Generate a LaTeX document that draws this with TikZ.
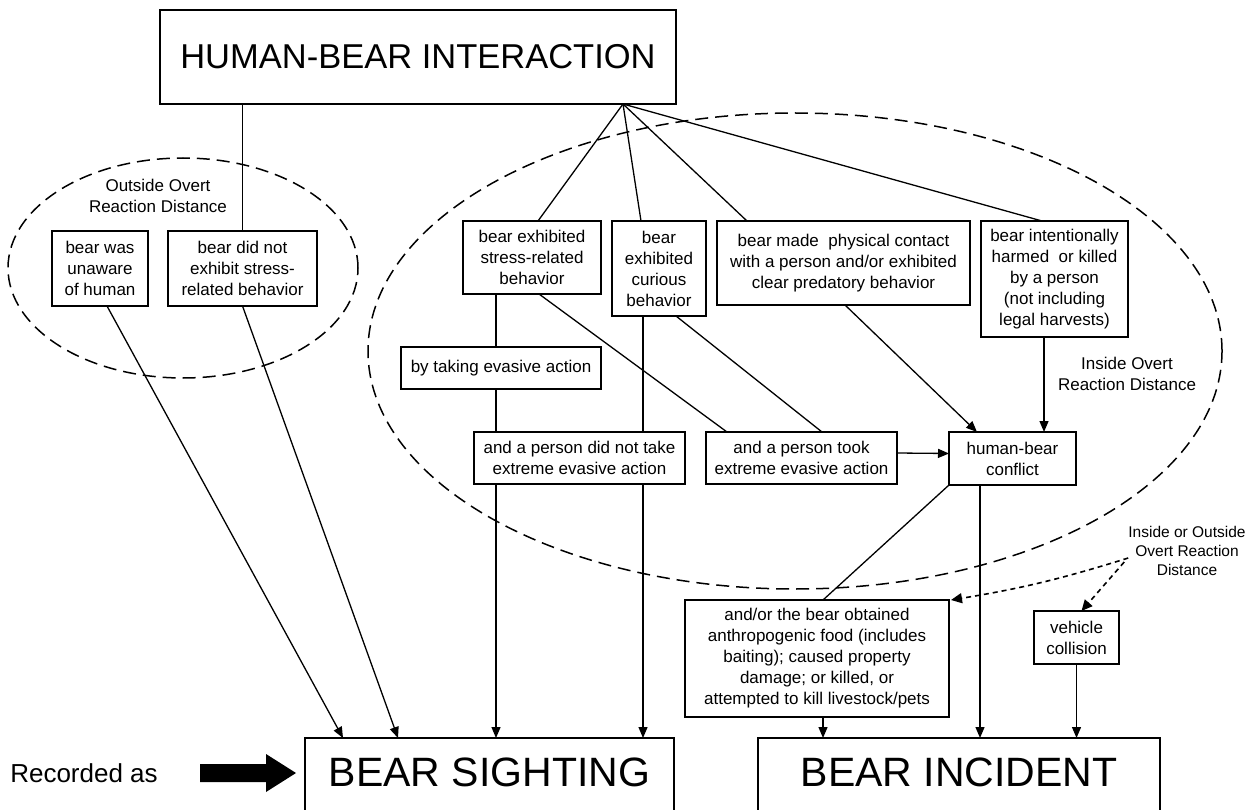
\documentclass[tikz,border=0pt]{standalone}
\usepackage{fontspec}
\setmainfont{Liberation Sans}
\usetikzlibrary{arrows.meta,calc}
\begin{document}
\begin{tikzpicture}[x=1pt,y=-1pt,
  box/.style={draw,line width=1.3pt,inner sep=0pt,outer sep=0pt,align=center,font=\fontsize{17}{21}\selectfont},
  bigbox/.style={inner sep=0pt,outer sep=0pt,font=\fontsize{41}{46}\selectfont},
  con/.style={line width=1.3pt},
  arr/.style={line width=1.3pt,-{Triangle[length=11pt,width=9pt]}},
  zone/.style={line width=1.5pt,dash pattern=on 13pt off 7pt},
  darr/.style={line width=1.6pt,dash pattern=on 5pt off 4pt,-{Triangle[length=11pt,width=10pt]}},
  lbl/.style={align=center,inner sep=0pt,font=\fontsize{17}{21}\selectfont},
]
\useasboundingbox (0,0) rectangle (1260,810);
\fill[white] (0,0) rectangle (1260,810);
\clip (0,0) rectangle (1260,810);

% zones
\draw[zone] (183,268) ellipse [x radius=175pt, y radius=110pt];
\draw[zone] (795,351) ellipse [x radius=427pt, y radius=238pt];

% title
\node[box,minimum width=516pt,minimum height=94pt,font=\fontsize{34.5}{40}\selectfont] (top) at (418,57) {HUMAN-BEAR INTERACTION};

% labels
\node[lbl] (outlbl) at (158,196) {Outside Overt\\Reaction Distance};
\node[lbl] (inlbl) at (1127,374) {Inside Overt\\Reaction Distance};
\node[lbl,font=\fontsize{15.5}{19}\selectfont] (iolbl) at (1187,551) {Inside or Outside\\Overt Reaction\\Distance};

% boxes
\node[box,minimum width=96pt,minimum height=75pt] (unaware) at (100,268.5) {bear was\\unaware\\of human};
\node[box,minimum width=149pt,minimum height=75pt] (didnot) at (242.5,268.5) {bear did not\\exhibit stress-\\related behavior};
\node[box,minimum width=138pt,minimum height=73pt] (stress) at (532,257.5) {bear exhibited\\stress-related\\behavior};
\node[box,minimum width=94pt,minimum height=95pt] (curious) at (659,268.5) {bear\\exhibited\\curious\\behavior};
\node[box,minimum width=253pt,minimum height=84pt] (physical) at (843.5,263) {bear made\ \ physical contact\\with a person and/or exhibited\\clear predatory behavior};
\node[box,minimum width=147pt,minimum height=116pt] (harmed) at (1054.5,279) {bear intentionally\\harmed\ \ or killed\\by a person\\(not including\\legal harvests)};
\node[box,minimum width=200pt,minimum height=42pt] (bytaking) at (501,368) {by taking evasive action};
\node[box,minimum width=211pt,minimum height=52pt] (didnottake) at (579.5,458) {and a person did not take\\extreme evasive action};
\node[box,minimum width=191pt,minimum height=52pt] (took) at (801.5,458) {and a person took\\extreme evasive action};
\node[box,minimum width=127pt,minimum height=53pt] (conflict) at (1012.5,458.5) {human-bear\\conflict};
\node[box,minimum width=264pt,minimum height=117pt] (andor) at (817,658.5) {and/or the bear obtained\\anthropogenic food (includes\\baiting); caused property\\damage; or killed, or\\attempted to kill livestock/pets};
\node[box,minimum width=85pt,minimum height=53pt] (vehicle) at (1076.5,637.5) {vehicle\\collision};

% outcome boxes
\node[bigbox,minimum width=369pt,minimum height=68pt] (sighting) at (489.5,772) {BEAR SIGHTING};
\node[bigbox,minimum width=402pt,minimum height=68pt] (incident) at (959,772) {BEAR INCIDENT};
\draw[con] ([yshift=-12pt]sighting.south west) -- (sighting.north west) -- (sighting.north east) -- ([yshift=-12pt]sighting.south east);
\draw[con] ([yshift=-12pt]incident.south west) -- (incident.north west) -- (incident.north east) -- ([yshift=-12pt]incident.south east);

% recorded as
\node[inner sep=0pt,font=\fontsize{26}{30}\selectfont] (rec) at (84,773) {Recorded as};
\fill (200,764) -- (266,764) -- (266,754) -- (296,773) -- (266,792) -- (266,782) -- (200,782) -- cycle;

% connectors
\coordinate (apex) at ([xshift=205pt]top.south);
\draw[con] (top.south -| didnot.north) -- (didnot.north);
\draw[con] (apex) -- ([xshift=6pt]stress.north);
\draw[con] (apex) -- ([xshift=-18pt]curious.north);
\draw[con] (apex) -- ([xshift=-96.5pt]physical.north);
\draw[con] (apex) -- ([xshift=-12.5pt]harmed.north);
\draw[arr] ([xshift=7pt]unaware.south) -- ([xshift=38pt]sighting.north west);
\draw[arr] (didnot.south) -- ([xshift=93pt]sighting.north west);
\draw[con] ([xshift=-36pt]stress.south) -- ([xshift=-5pt]bytaking.north);
\draw[con] ([xshift=-5pt]bytaking.south) -- ([xshift=-83.5pt]didnottake.north);
\draw[arr] ([xshift=-83.5pt]didnottake.south) -- ([xshift=191pt]sighting.north west);
\draw[con] ([xshift=-16pt]curious.south) -- ([xshift=63.5pt]didnottake.north);
\draw[arr] ([xshift=63.5pt]didnottake.south) -- ([xshift=338pt]sighting.north west);
\draw[con] ([xshift=7pt]stress.south) -- ([xshift=-74.5pt]took.north);
\draw[con] ([xshift=17pt]curious.south) -- ([xshift=20.5pt]took.north);
\draw[arr] ([xshift=1.5pt]physical.south) -- ([xshift=-35.5pt]conflict.north);
\draw[arr] ([xshift=-10.5pt]harmed.south) -- ([xshift=31.5pt]conflict.north);
\draw[arr] ([yshift=5pt]took.east) -- ([yshift=5pt]conflict.west);
\draw[con] (conflict.south west) -- ([xshift=6pt]andor.north);
\draw[arr] ([xshift=-32.5pt]conflict.south) -- ([xshift=222pt]incident.north west);
\draw[arr] ([xshift=6pt]andor.south) -- ([xshift=65pt]incident.north west);
\draw[arr] (vehicle.south) -- ([xshift=318.5pt]incident.north west);
\draw[darr] ([yshift=-7pt]iolbl.west) to[bend left=4] ([xshift=2pt]andor.north east);
\draw[darr] ([xshift=-4pt,yshift=-11pt]iolbl.west) -- ([xshift=5pt]vehicle.north);
\end{tikzpicture}
\end{document}
